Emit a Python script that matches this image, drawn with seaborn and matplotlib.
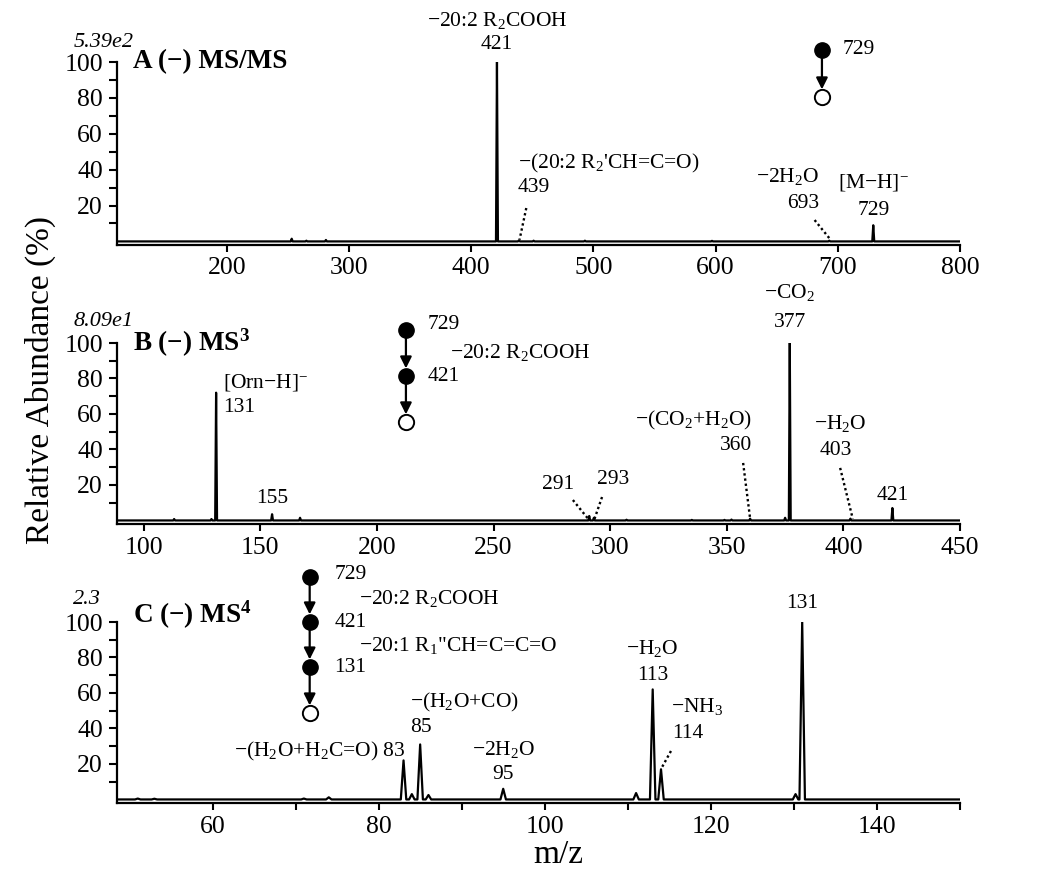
import matplotlib
matplotlib.use("Agg")
import matplotlib.pyplot as plt
from matplotlib.ticker import FixedLocator
import seaborn as sns
import pandas as pd

# peak lists (m/z, relative abundance %)
a_mz = [253, 265, 281, 421, 439, 451, 493, 597, 693, 729]
a_int = [1.5, 0.4, 0.8, 100, 0.6, 0.4, 0.4, 0.3, 0.4, 9]
b_mz = [113, 129, 131, 155, 167, 291, 293, 307, 335, 349, 352, 360, 375, 377, 403, 421]
b_int = [0.8, 0.8, 72, 3.5, 1.5, 2.5, 1.5, 0.4, 0.3, 0.3, 0.5, 1.0, 1.5, 100, 1.0, 7]
c_mz = [51, 53, 71, 74, 83, 84, 85, 86, 95, 111, 113, 114, 130.2, 131]
c_int = [0.5, 0.4, 0.5, 1.2, 22, 3, 31, 2.5, 6, 3.6, 62, 17, 3, 100]

scales = ["5.39e2", "8.09e1", "2.3"]
titles = [r"A (−) MS/MS", r"B (−) MS$^{\mathbf{3}}$", r"C (−) MS$^{\mathbf{4}}$"]

sns.set_theme(style="ticks")
plt.rcParams["font.family"] = ["Liberation Serif", "DejaVu Serif"]
plt.rcParams["mathtext.fontset"] = "custom"
plt.rcParams["mathtext.rm"] = "Liberation Serif"
plt.rcParams["mathtext.it"] = "Liberation Serif:italic"
plt.rcParams["mathtext.bf"] = "Liberation Serif:bold"
for key in ["text.color", "axes.labelcolor", "xtick.color", "ytick.color", "axes.edgecolor"]:
    plt.rcParams[key] = "black"

ANN = 15.5


def trace(mz, inten, lo, hi, w):
    xs, ys = [lo], [0]
    for m, i in sorted(zip(mz, inten)):
        xs += [m - w, m, m + w]
        ys += [0, i, 0]
    xs.append(hi)
    ys.append(0)
    return pd.DataFrame({"mz": xs, "ab": ys})


def txt(ax, x, y, s, ha="center", size=ANN):
    ax.text(x, y, s, ha=ha, va="center", fontsize=size, clip_on=False)


def dots(ax, x0, y0, x1, y1):
    ax.plot([x0, x1], [y0, y1], ls=(0, (1, 1.2)), lw=1.7, color="black", clip_on=False)


def scheme(ax, x, ys):
    for y0, y1 in zip(ys[:-1], ys[1:]):
        ax.annotate("", xy=(x, y1), xytext=(x, y0), annotation_clip=False,
                    arrowprops=dict(arrowstyle="-|>", color="black", lw=1.6,
                                    shrinkA=0, shrinkB=5.5, mutation_scale=17))
    for y in ys[:-1]:
        ax.plot(x, y, "o", ms=11, color="black", clip_on=False, zorder=5)
    ax.plot(x, ys[-1], "o", ms=11, mfc="white", mec="black", mew=1.4,
            clip_on=False, zorder=5)


fig = plt.figure(figsize=(10.46, 8.88), dpi=100)
W, H = 1046, 888
boxes = [(62, 245), (343, 524), (622, 803)]
xlims = [(110, 800), (88.5, 450), (48.5, 150)]
data = [(a_mz, a_int, 0.8), (b_mz, b_int, 0.4), (c_mz, c_int, 0.33)]
scale_y = [42, 322, 599]
title_y = [62, 343, 615]
axes = []
for k, ((top, bot), xl, (mz, it, w)) in enumerate(zip(boxes, xlims, data)):
    ax = fig.add_axes([117 / W, 1 - bot / H, 843 / W, (bot - top) / H])
    df = trace(mz, it, xl[0], xl[1], w)
    sns.lineplot(data=df, x="mz", y="ab", ax=ax, color="black", lw=1.6,
                 sort=False, estimator=None)
    ax.set_xlim(*xl)
    ax.set_ylim(-2, 100)
    ax.set_xlabel("")
    ax.set_ylabel("")
    ax.yaxis.set_major_locator(FixedLocator([20, 40, 60, 80, 100]))
    ax.yaxis.set_minor_locator(FixedLocator([10, 30, 50, 70, 90]))
    sns.despine(ax=ax)
    for s in ["left", "bottom"]:
        ax.spines[s].set_linewidth(1.6)
    ax.tick_params(which="both", direction="out", length=5, width=1.5, labelsize=18.5)
    ax.tick_params(axis="y", which="both", length=6, pad=4)
    ax.tick_params(axis="x", pad=4)
    hgt = bot - top
    ax.text(-0.052, (bot - scale_y[k]) / hgt, scales[k], transform=ax.transAxes,
            style="italic", fontsize=16, va="center", ha="left")
    ax.text(0.019, (bot - title_y[k]) / hgt, titles[k], transform=ax.transAxes,
            fontsize=19.5, fontweight="bold", va="center", ha="left")
    axes.append(ax)

axA, axB, axC = axes
axA.set_xticks([200, 300, 400, 500, 600, 700, 800])
axB.set_xticks([100, 150, 200, 250, 300, 350, 400, 450])
axC.set_xticks([60, 80, 100, 120, 140])
axC.xaxis.set_minor_locator(FixedLocator([70, 90, 110, 130, 150]))

# panel A annotations
txt(axA, 421, 123.4, "−20:2 R$_2$COOH")
txt(axA, 421, 109.5, "421")
txt(axA, 438, 43.7, "−(20:2 R$_2$'CH=C=O)", ha="left")
txt(axA, 438, 29.8, "439", ha="left")
dots(axA, 445, 18.6, 439.5, 1)
txt(axA, 685, 36, "−2H$_2$O", ha="right")
txt(axA, 685, 21.4, "693", ha="right")
dots(axA, 681, 11.9, 694, 1)
txt(axA, 729, 32.6, "[M−H]$^{-}$")
txt(axA, 729, 17.5, "729")
scheme(axA, 687, [106.7, 80.5])
txt(axA, 704, 106.7, "729", ha="left")

# panel B annotations
scheme(axB, 212.4, [107.3, 81.4, 55.5])
txt(axB, 221.9, 110.5, "729", ha="left")
txt(axB, 221.9, 81.4, "421", ha="left")
txt(axB, 231.3, 94.9, "−20:2 R$_2$COOH", ha="left")
txt(axB, 134, 78, "[Orn−H]$^{-}$", ha="left")
txt(axB, 134, 63.4, "131", ha="left")
txt(axB, 155, 12.1, "155")
txt(axB, 284.5, 20, "291", ha="right")
dots(axB, 284, 11.5, 290.5, 1)
txt(axB, 294.5, 22.8, "293", ha="left")
dots(axB, 296.5, 13.2, 293.3, 1)
txt(axB, 361, 56.6, "−(CO$_2$+H$_2$O)", ha="right")
txt(axB, 361, 42, "360", ha="right")
dots(axB, 357, 32.4, 360, 1)
txt(axB, 377, 128.7, "−CO$_2$")
txt(axB, 377, 111.3, "377")
txt(axB, 387.5, 54.9, "−H$_2$O", ha="left")
txt(axB, 389.7, 39.7, "403", ha="left")
dots(axB, 398.6, 29.6, 404, 1)
txt(axB, 421, 14.3, "421")

# panel C annotations
scheme(axC, 71.7, [125.4, 100, 74.6, 48.7])
txt(axC, 74.7, 127, "729", ha="left")
txt(axC, 74.7, 100, "421", ha="left")
txt(axC, 74.7, 74.6, "131", ha="left")
txt(axC, 77.6, 113, "−20:2 R$_2$COOH", ha="left")
txt(axC, 77.6, 87, "−20:1 R$_1$\"CH=C=C=O", ha="left")
txt(axC, 83.3, 27.3, "−(H$_2$O+H$_2$C=O) 83", ha="right")
txt(axC, 83.8, 54.4, "−(H$_2$O+CO)", ha="left")
txt(axC, 83.8, 40.3, "85", ha="left")
txt(axC, 95, 28.4, "−2H$_2$O")
txt(axC, 95, 13.8, "95")
txt(axC, 113, 85.3, "−H$_2$O")
txt(axC, 113, 70.1, "113")
txt(axC, 115.2, 52.1, "−NH$_3$", ha="left")
txt(axC, 115.3, 36.9, "114", ha="left")
dots(axC, 115.2, 27.3, 114.1, 18)
txt(axC, 131, 110.7, "131")

fig.text(40 / W, 1 - 380 / H, "Relative Abundance (%)", rotation=90,
         ha="center", va="center", fontsize=24)
fig.text(558 / W, 1 - 855 / H, "m/z", ha="center", va="center", fontsize=24)

fig.savefig("out.png", dpi=100)
plt.close(fig)
